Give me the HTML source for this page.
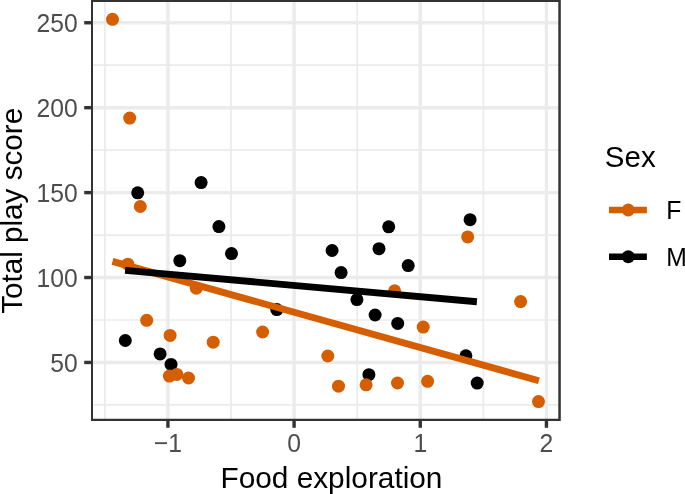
<!DOCTYPE html>
<html><head><meta charset="utf-8"><title>Total play score vs Food exploration</title><style>html,body{margin:0;padding:0;background:#fff;overflow:hidden;}svg{display:block;}text{font-family:"Liberation Sans",Arial,Helvetica,sans-serif;}</style></head><body>
<svg width="685" height="494" viewBox="0 0 685 494">
<rect x="0" y="0" width="685" height="494" fill="#fff"/>
<defs><clipPath id="pc"><rect x="91.0" y="0.0" width="469.80" height="421.00"/></clipPath></defs>
<g clip-path="url(#pc)">
<line x1="104.85" y1="0.0" x2="104.85" y2="421.0" stroke="#EBEBEB" stroke-width="1.7"/>
<line x1="231.02" y1="0.0" x2="231.02" y2="421.0" stroke="#EBEBEB" stroke-width="1.7"/>
<line x1="357.19" y1="0.0" x2="357.19" y2="421.0" stroke="#EBEBEB" stroke-width="1.7"/>
<line x1="483.36" y1="0.0" x2="483.36" y2="421.0" stroke="#EBEBEB" stroke-width="1.7"/>
<line x1="91.0" y1="404.91" x2="560.8" y2="404.91" stroke="#EBEBEB" stroke-width="1.7"/>
<line x1="91.0" y1="319.99" x2="560.8" y2="319.99" stroke="#EBEBEB" stroke-width="1.7"/>
<line x1="91.0" y1="235.06" x2="560.8" y2="235.06" stroke="#EBEBEB" stroke-width="1.7"/>
<line x1="91.0" y1="150.14" x2="560.8" y2="150.14" stroke="#EBEBEB" stroke-width="1.7"/>
<line x1="91.0" y1="65.21" x2="560.8" y2="65.21" stroke="#EBEBEB" stroke-width="1.7"/>
<line x1="167.93" y1="0.0" x2="167.93" y2="421.0" stroke="#EBEBEB" stroke-width="3.4"/>
<line x1="294.10" y1="0.0" x2="294.10" y2="421.0" stroke="#EBEBEB" stroke-width="3.4"/>
<line x1="420.27" y1="0.0" x2="420.27" y2="421.0" stroke="#EBEBEB" stroke-width="3.4"/>
<line x1="546.44" y1="0.0" x2="546.44" y2="421.0" stroke="#EBEBEB" stroke-width="3.4"/>
<line x1="91.0" y1="362.45" x2="560.8" y2="362.45" stroke="#EBEBEB" stroke-width="3.4"/>
<line x1="91.0" y1="277.52" x2="560.8" y2="277.52" stroke="#EBEBEB" stroke-width="3.4"/>
<line x1="91.0" y1="192.60" x2="560.8" y2="192.60" stroke="#EBEBEB" stroke-width="3.4"/>
<line x1="91.0" y1="107.68" x2="560.8" y2="107.68" stroke="#EBEBEB" stroke-width="3.4"/>
<line x1="91.0" y1="22.75" x2="560.8" y2="22.75" stroke="#EBEBEB" stroke-width="3.4"/>
<circle cx="137.7" cy="192.8" r="6.5" fill="#000"/>
<circle cx="201.1" cy="182.6" r="6.5" fill="#000"/>
<circle cx="218.9" cy="226.6" r="6.5" fill="#000"/>
<circle cx="231.5" cy="253.6" r="6.5" fill="#000"/>
<circle cx="179.8" cy="260.7" r="6.5" fill="#000"/>
<circle cx="125.3" cy="340.5" r="6.5" fill="#000"/>
<circle cx="160.1" cy="353.9" r="6.5" fill="#000"/>
<circle cx="171.05" cy="364.4" r="6.5" fill="#000"/>
<circle cx="276.8" cy="309.6" r="6.5" fill="#000"/>
<circle cx="332.1" cy="250.5" r="6.5" fill="#000"/>
<circle cx="341.1" cy="272.6" r="6.5" fill="#000"/>
<circle cx="356.9" cy="299.6" r="6.5" fill="#000"/>
<circle cx="375.1" cy="315.0" r="6.5" fill="#000"/>
<circle cx="379.0" cy="248.7" r="6.5" fill="#000"/>
<circle cx="388.7" cy="226.8" r="6.5" fill="#000"/>
<circle cx="397.7" cy="323.4" r="6.5" fill="#000"/>
<circle cx="408.2" cy="265.6" r="6.5" fill="#000"/>
<circle cx="368.9" cy="374.7" r="6.5" fill="#000"/>
<circle cx="470.1" cy="219.7" r="6.5" fill="#000"/>
<circle cx="465.9" cy="355.8" r="6.5" fill="#000"/>
<circle cx="477.2" cy="383.1" r="6.5" fill="#000"/>
<circle cx="112.5" cy="19.3" r="6.5" fill="#D55E00"/>
<circle cx="129.7" cy="118.1" r="6.5" fill="#D55E00"/>
<circle cx="140.3" cy="206.5" r="6.5" fill="#D55E00"/>
<circle cx="127.8" cy="264.2" r="6.5" fill="#D55E00"/>
<circle cx="146.7" cy="320.3" r="6.5" fill="#D55E00"/>
<circle cx="170.1" cy="335.4" r="6.5" fill="#D55E00"/>
<circle cx="169.4" cy="376.1" r="6.5" fill="#D55E00"/>
<circle cx="176.8" cy="374.4" r="6.5" fill="#D55E00"/>
<circle cx="188.5" cy="378.0" r="6.5" fill="#D55E00"/>
<circle cx="196.3" cy="288.2" r="6.5" fill="#D55E00"/>
<circle cx="213.2" cy="342.2" r="6.5" fill="#D55E00"/>
<circle cx="262.6" cy="332.0" r="6.5" fill="#D55E00"/>
<circle cx="327.8" cy="356.0" r="6.5" fill="#D55E00"/>
<circle cx="338.5" cy="386.2" r="6.5" fill="#D55E00"/>
<circle cx="366.1" cy="384.8" r="6.5" fill="#D55E00"/>
<circle cx="394.6" cy="290.8" r="6.5" fill="#D55E00"/>
<circle cx="397.5" cy="383.0" r="6.5" fill="#D55E00"/>
<circle cx="423.2" cy="327.1" r="6.5" fill="#D55E00"/>
<circle cx="427.6" cy="381.3" r="6.5" fill="#D55E00"/>
<circle cx="467.7" cy="236.9" r="6.5" fill="#D55E00"/>
<circle cx="520.6" cy="301.6" r="6.5" fill="#D55E00"/>
<circle cx="538.5" cy="401.6" r="6.5" fill="#D55E00"/>
<line x1="112.5" y1="261.4" x2="538.9" y2="380.7" stroke="#D55E00" stroke-width="6.9"/>
<line x1="125.1" y1="270.4" x2="476.9" y2="301.7" stroke="#000" stroke-width="6.9"/>
</g>
<path d="M91.0,0.0H560.8V421.0H91.0Z M93.0,2.0V418.8H558.3V2.0Z" fill="#333333" fill-rule="evenodd"/>
<line x1="167.93" y1="421.0" x2="167.93" y2="427.80" stroke="#333333" stroke-width="3.4"/>
<line x1="294.10" y1="421.0" x2="294.10" y2="427.80" stroke="#333333" stroke-width="3.4"/>
<line x1="420.27" y1="421.0" x2="420.27" y2="427.80" stroke="#333333" stroke-width="3.4"/>
<line x1="546.44" y1="421.0" x2="546.44" y2="427.80" stroke="#333333" stroke-width="3.4"/>
<line x1="84.20" y1="362.45" x2="91.0" y2="362.45" stroke="#333333" stroke-width="3.4"/>
<line x1="84.20" y1="277.52" x2="91.0" y2="277.52" stroke="#333333" stroke-width="3.4"/>
<line x1="84.20" y1="192.60" x2="91.0" y2="192.60" stroke="#333333" stroke-width="3.4"/>
<line x1="84.20" y1="107.68" x2="91.0" y2="107.68" stroke="#333333" stroke-width="3.4"/>
<line x1="84.20" y1="22.75" x2="91.0" y2="22.75" stroke="#333333" stroke-width="3.4"/>
<text transform="translate(77.80,371.50) scale(1,1.05)" font-size="24.7" fill="#4D4D4D" text-anchor="end">50</text>
<text transform="translate(77.80,286.57) scale(1,1.05)" font-size="24.7" fill="#4D4D4D" text-anchor="end">100</text>
<text transform="translate(77.80,201.65) scale(1,1.05)" font-size="24.7" fill="#4D4D4D" text-anchor="end">150</text>
<text transform="translate(77.80,116.73) scale(1,1.05)" font-size="24.7" fill="#4D4D4D" text-anchor="end">200</text>
<text transform="translate(77.80,31.80) scale(1,1.05)" font-size="24.7" fill="#4D4D4D" text-anchor="end">250</text>
<text transform="translate(167.93,452.00) scale(1,1.05)" font-size="24.7" fill="#4D4D4D" text-anchor="middle">−1</text>
<text transform="translate(294.10,452.00) scale(1,1.05)" font-size="24.7" fill="#4D4D4D" text-anchor="middle">0</text>
<text transform="translate(420.27,452.00) scale(1,1.05)" font-size="24.7" fill="#4D4D4D" text-anchor="middle">1</text>
<text transform="translate(546.44,452.00) scale(1,1.05)" font-size="24.7" fill="#4D4D4D" text-anchor="middle">2</text>
<text transform="translate(220.46,487.50)" font-size="29.8" fill="#000">Food exploration</text>
<text transform="translate(22.30,313.80) rotate(-90)" font-size="29.65" fill="#000">Total play score</text>
<text transform="translate(604.86,166.80)" font-size="29.5" fill="#000">Sex</text>
<line x1="609.0" y1="210.0" x2="646.9" y2="210.0" stroke="#D55E00" stroke-width="6.5"/>
<circle cx="628.25" cy="210.0" r="6.5" fill="#D55E00"/>
<text transform="translate(666.20,218.90) scale(1,1.05)" font-size="24.7" fill="#000">F</text>
<line x1="609.0" y1="256.75" x2="646.9" y2="256.75" stroke="#000" stroke-width="6.5"/>
<circle cx="628.25" cy="256.75" r="6.5" fill="#000"/>
<text transform="translate(666.20,265.50) scale(1,1.05)" font-size="24.7" fill="#000">M</text>
</svg></body></html>
